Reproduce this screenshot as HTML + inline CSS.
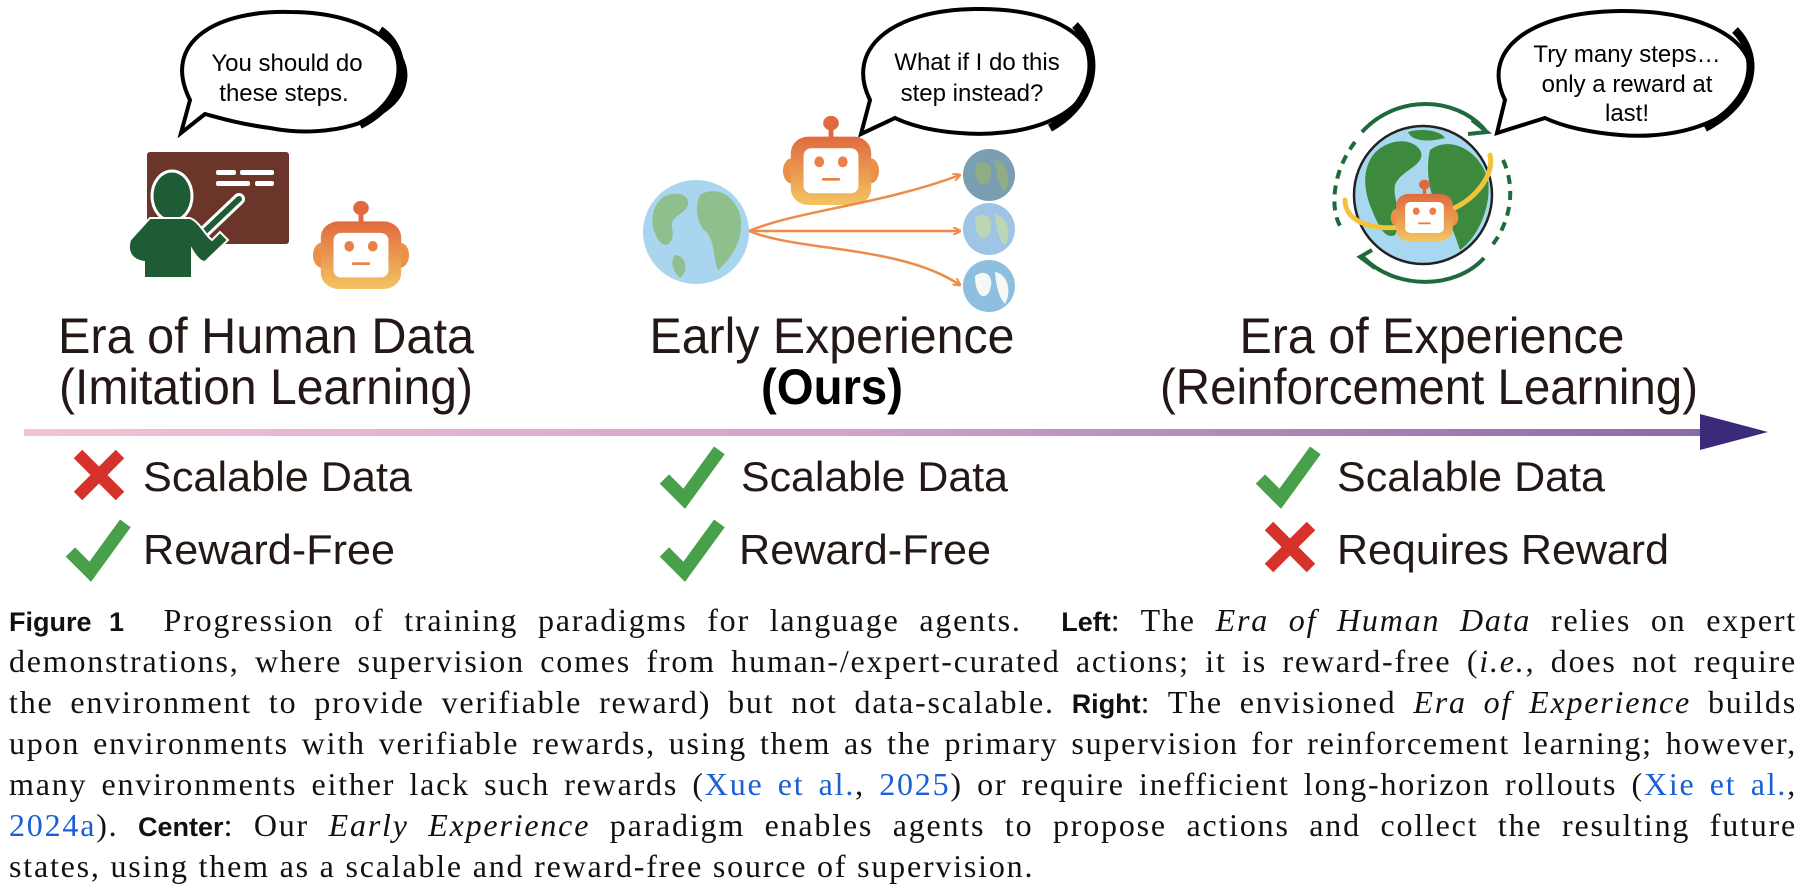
<!DOCTYPE html>
<html><head><meta charset="utf-8">
<style>
html,body{margin:0;padding:0;background:#fff;}
body{width:1811px;height:892px;position:relative;overflow:hidden;}
svg{position:absolute;left:0;top:0;}
.cap{position:absolute;left:9px;width:1788px;top:600px;font-family:"Liberation Serif",serif;font-size:32px;letter-spacing:1.8px;line-height:41px;color:#111;}
.cap div{text-align:justify;text-align-last:justify;white-space:nowrap;height:41px;}
.cap div.last{text-align-last:left;}
.b{font-family:"Liberation Sans",sans-serif;font-weight:bold;font-size:27px;letter-spacing:0;}
.l{color:#1a5fd6;}
</style></head><body>
<svg width="1811" height="892" viewBox="0 0 1811 892" font-family="Liberation Sans, sans-serif">
<defs>
<linearGradient id="rg" x1="0" y1="0" x2="0" y2="1"><stop offset="0" stop-color="#e06a3e"/><stop offset="1" stop-color="#f3c462"/></linearGradient>
<linearGradient id="ag" x1="0" y1="0" x2="1" y2="0"><stop offset="0" stop-color="#f2c3d8"/><stop offset="0.5" stop-color="#d2a2c8"/><stop offset="1" stop-color="#8a6aa8"/></linearGradient>
<g id="robot">
<circle cx="50" cy="9" r="8" fill="#e06a3e"/>
<rect x="47.5" y="14" width="5" height="12" fill="#e06a3e"/>
<ellipse cx="10" cy="62" rx="9" ry="14" fill="#eb9048"/>
<ellipse cx="90" cy="62" rx="9" ry="14" fill="#eb9048"/>
<rect x="9" y="24" width="82" height="76" rx="18" fill="url(#rg)"/>
<rect x="22" y="37" width="56" height="50" rx="8" fill="#fff"/>
<ellipse cx="38" cy="52" rx="5" ry="6" fill="#eb7f45"/>
<ellipse cx="62" cy="52" rx="5" ry="6" fill="#eb7f45"/>
<rect x="41" y="70" width="18" height="3" fill="#eb7f45"/>
</g>
<g id="check"><path d="M4 30 L22 48 L54 4" fill="none" stroke="#49a04a" stroke-width="12" stroke-linejoin="miter"/></g>
<g id="cross"><path d="M4 4 L46 46 M46 4 L4 46" stroke="#d6312a" stroke-width="12"/></g>
<marker id="oa" markerWidth="8" markerHeight="8" refX="7" refY="4" orient="auto" markerUnits="userSpaceOnUse"><path d="M0 0 L8 4 L0 8" fill="none" stroke="#ec8c48" stroke-width="2"/></marker>
</defs>

<path d="M190 100 C160 40 220 10 290 12 C370 12 410 50 405 80 C400 120 330 140 270 128 C240 124 220 118 205 114 L181 133 Z" fill="#fff" stroke="#000" stroke-width="4"/>
<path d="M380 30 C410 50 410 100 360 125" fill="none" stroke="#000" stroke-width="8"/>
<text x="287" y="71" font-size="24" text-anchor="middle">You should do</text>
<text x="284" y="101" font-size="24" text-anchor="middle">these steps.</text>

<rect x="147" y="152" width="142" height="92" rx="3" fill="#6b3529"/>
<rect x="216" y="170" width="20" height="5" rx="2" fill="#fff"/><rect x="240" y="170" width="34" height="5" rx="2" fill="#fff"/>
<rect x="216" y="181" width="34" height="5" rx="2" fill="#fff"/><rect x="255" y="181" width="19" height="5" rx="2" fill="#fff"/>
<path d="M199 237 L239 199" stroke="#fff" stroke-width="12" stroke-linecap="round"/>
<path d="M199 237 L239 199" stroke="#1e5c36" stroke-width="6" stroke-linecap="round"/>
<ellipse cx="172" cy="196" rx="20" ry="25" fill="#1e5c36" stroke="#fff" stroke-width="3"/>
<path d="M150 218 L190 218 C200 222 205 235 212 240 L220 232 L228 240 L205 262 C200 262 195 255 192 250 L192 278 L144 278 L144 262 C130 260 127 250 130 240 Z" fill="#1e5c36" stroke="#fff" stroke-width="2"/>
<use href="#robot" transform="translate(312,200) scale(0.98,0.89)"/>

<text x="266" y="353" font-size="50" text-anchor="middle" fill="#231815" textLength="416" lengthAdjust="spacingAndGlyphs">Era of Human Data</text>
<text x="266" y="404" font-size="50" text-anchor="middle" fill="#231815" textLength="414" lengthAdjust="spacingAndGlyphs">(Imitation Learning)</text>

<path d="M870 100 C845 50 890 10 975 9 C1060 8 1095 40 1092 70 C1088 120 1020 138 960 133 C930 131 910 125 895 118 L861 134 Z" fill="#fff" stroke="#000" stroke-width="4"/>
<path d="M1075 25 C1100 50 1100 100 1050 128" fill="none" stroke="#000" stroke-width="8"/>
<text x="977" y="70" font-size="24" text-anchor="middle">What if I do this</text>
<text x="972" y="101" font-size="24" text-anchor="middle">step instead?</text>
<use href="#robot" transform="translate(782,115) scale(0.98,0.9)"/>
<ellipse cx="696" cy="232" rx="53" ry="52" fill="#a9d6ee"/>
<path d="M660 200 C670 190 690 192 688 205 C685 215 670 215 672 228 C675 240 668 250 660 242 C650 230 650 210 660 200 Z" fill="#8fbf8c"/>
<path d="M700 195 C715 185 735 195 740 215 C745 240 730 260 718 270 C712 255 716 240 704 230 C696 220 695 205 700 195 Z" fill="#8fbf8c"/>
<path d="M675 255 C685 255 690 270 680 278 C672 270 670 262 675 255 Z" fill="#8fbf8c"/>
<path d="M749 231 C800 210 880 205 960 175" fill="none" stroke="#ec8c48" stroke-width="2.5" marker-end="url(#oa)"/>
<path d="M749 231 L960 231" fill="none" stroke="#ec8c48" stroke-width="2.5" marker-end="url(#oa)"/>
<path d="M749 231 C800 252 900 245 960 285" fill="none" stroke="#ec8c48" stroke-width="2.5" marker-end="url(#oa)"/>
<ellipse cx="989" cy="175" rx="26" ry="26" fill="#7a9fb2"/>
<path d="M975 165 C985 158 995 165 990 180 C985 190 975 185 975 165 Z M995 160 C1008 162 1012 180 1005 192 C998 185 996 172 995 160 Z" fill="#8fad84"/>
<ellipse cx="989" cy="229" rx="26" ry="26" fill="#9ec4e6"/>
<path d="M975 218 C985 210 995 218 990 232 C985 244 975 238 975 218 Z M995 214 C1008 216 1012 234 1005 246 C998 238 996 226 995 214 Z" fill="#bcd6b4"/>
<ellipse cx="989" cy="286" rx="26" ry="26" fill="#8fbfe0"/>
<path d="M975 276 C985 268 995 276 990 290 C985 302 975 296 975 276 Z M995 272 C1008 274 1012 292 1005 304 C998 296 996 284 995 272 Z" fill="#f4f8f6"/>

<text x="832" y="353" font-size="50" text-anchor="middle" fill="#231815" textLength="365" lengthAdjust="spacingAndGlyphs">Early Experience</text>
<text x="832" y="404" font-size="50" font-weight="bold" text-anchor="middle" fill="#000" textLength="142" lengthAdjust="spacingAndGlyphs">(Ours)</text>

<path d="M1505 100 C1480 50 1530 12 1620 11 C1710 10 1755 45 1750 75 C1745 120 1680 140 1620 135 C1585 132 1560 125 1545 118 L1497 133 Z" fill="#fff" stroke="#000" stroke-width="4"/>
<path d="M1735 30 C1760 55 1758 100 1705 128" fill="none" stroke="#000" stroke-width="8"/>
<text x="1627" y="62" font-size="24" text-anchor="middle">Try many steps…</text>
<text x="1627" y="92" font-size="24" text-anchor="middle">only a reward at</text>
<text x="1627" y="121" font-size="24" text-anchor="middle">last!</text>
<circle cx="1423" cy="195" r="69" fill="#a8d8ef" stroke="#222" stroke-width="2.5"/>
<path d="M1370 160 C1380 140 1410 135 1420 150 C1428 165 1400 170 1395 185 C1392 200 1405 215 1395 235 C1385 240 1378 225 1372 210 C1365 195 1362 175 1370 160 Z" fill="#3d8a3e"/>
<path d="M1430 150 C1450 135 1480 150 1488 180 C1492 210 1475 240 1460 250 C1455 235 1450 220 1440 210 C1430 200 1425 170 1430 150 Z" fill="#3d8a3e"/>
<path d="M1408 132 C1420 128 1440 130 1445 138 C1430 142 1412 142 1408 132 Z" fill="#3d8a3e"/>
<path d="M1345 200 C1345 225 1380 230 1400 227 M1450 210 C1475 200 1495 175 1490 155" fill="none" stroke="#f2c33c" stroke-width="5" stroke-linecap="round"/>
<path d="M1362 132 C1395 95 1455 95 1485 130" fill="none" stroke="#1f6a3c" stroke-width="4"/>
<path d="M1472 120 L1487 132 L1468 134" fill="none" stroke="#1f6a3c" stroke-width="4"/>
<path d="M1484 258 C1455 290 1395 290 1363 257" fill="none" stroke="#1f6a3c" stroke-width="4"/>
<path d="M1372 250 L1360 257 L1375 268" fill="none" stroke="#1f6a3c" stroke-width="4"/>
<path d="M1355 142 C1330 175 1330 215 1343 230" fill="none" stroke="#1f6a3c" stroke-width="4" stroke-dasharray="9 7"/>
<path d="M1503 160 C1515 185 1513 220 1490 248" fill="none" stroke="#1f6a3c" stroke-width="4" stroke-dasharray="9 7"/>
<use href="#robot" transform="translate(1390,179) scale(0.69,0.62)"/>

<text x="1432" y="353" font-size="50" text-anchor="middle" fill="#231815" textLength="385" lengthAdjust="spacingAndGlyphs">Era of Experience</text>
<text x="1429" y="404" font-size="50" text-anchor="middle" fill="#231815" textLength="538" lengthAdjust="spacingAndGlyphs">(Reinforcement Learning)</text>

<rect x="24" y="429" width="1680" height="7" fill="url(#ag)"/>
<path d="M1700 414 L1768 432 L1700 450 Z" fill="#3b2a7a"/>

<use href="#cross" transform="translate(74,450)"/>
<text x="143" y="491" font-size="42" fill="#231815" textLength="269" lengthAdjust="spacingAndGlyphs">Scalable Data</text>
<use href="#check" transform="translate(66,519) scale(1.1)"/>
<text x="143" y="564" font-size="42" fill="#231815" textLength="252" lengthAdjust="spacingAndGlyphs">Reward-Free</text>

<use href="#check" transform="translate(660,446) scale(1.1)"/>
<text x="741" y="491" font-size="42" fill="#231815" textLength="267" lengthAdjust="spacingAndGlyphs">Scalable Data</text>
<use href="#check" transform="translate(660,519) scale(1.1)"/>
<text x="739" y="564" font-size="42" fill="#231815" textLength="252" lengthAdjust="spacingAndGlyphs">Reward-Free</text>

<use href="#check" transform="translate(1256,446) scale(1.1)"/>
<text x="1337" y="491" font-size="42" fill="#231815" textLength="268" lengthAdjust="spacingAndGlyphs">Scalable Data</text>
<use href="#cross" transform="translate(1265,522)"/>
<text x="1337" y="564" font-size="42" fill="#231815" textLength="332" lengthAdjust="spacingAndGlyphs">Requires Reward</text>
</svg>

<div class="cap">
<div><span class="b">Figure&nbsp;1</span>&nbsp; Progression of training paradigms for language agents. &nbsp;<span class="b">Left</span>: The <i>Era of Human Data</i> relies on expert</div>
<div>demonstrations, where supervision comes from human-/expert-curated actions; it is reward-free (<i>i.e.</i>, does not require</div>
<div>the environment to provide verifiable reward) but not data-scalable. <span class="b">Right</span>: The envisioned <i>Era of Experience</i> builds</div>
<div>upon environments with verifiable rewards, using them as the primary supervision for reinforcement learning; however,</div>
<div>many environments either lack such rewards (<span class="l">Xue et al.</span>, <span class="l">2025</span>) or require inefficient long-horizon rollouts (<span class="l">Xie et al.</span>,</div>
<div><span class="l">2024a</span>). <span class="b">Center</span>: Our <i>Early Experience</i> paradigm enables agents to propose actions and collect the resulting future</div>
<div class="last">states, using them as a scalable and reward-free source of supervision.</div>
</div>
</body></html>
